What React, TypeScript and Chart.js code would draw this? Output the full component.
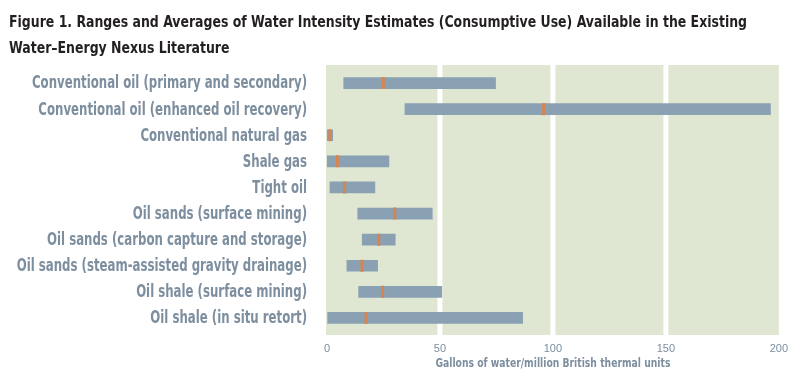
import React, { useEffect, useRef } from 'react';
import { Chart, registerables } from 'chart.js';

Chart.register(...registerables);

const titleLines = [
  'Figure 1. Ranges and Averages of Water Intensity Estimates (Consumptive Use) Available in the Existing',
  'Water–Energy Nexus Literature',
];
const categories = [
  'Conventional oil (primary and secondary)',
  'Conventional oil (enhanced oil recovery)',
  'Conventional natural gas',
  'Shale gas',
  'Tight oil',
  'Oil sands (surface mining)',
  'Oil sands (carbon capture and storage)',
  'Oil sands (steam-assisted gravity drainage)',
  'Oil shale (surface mining)',
  'Oil shale (in situ retort)',
];
const minValues = [7.4, 34.5, 0, 0, 1.3, 13.6, 15.6, 8.8, 14, 0.3];
const maxValues = [74.6, 196.3, 2.5, 27.4, 21.2, 46.6, 30.2, 22.4, 50.8, 86.6];
const avgValues = [24.9, 95.9, 1.3, 4.6, 7.8, 30, 22.9, 15.5, 24.6, 17.3];
const xTicks = [0, 50, 100, 150, 200];
const gridValues = [50, 100, 150];
const xAxisTitle = 'Gallons of water/million British thermal units';

const FONT = '"DejaVu Sans Condensed", "DejaVu Sans", Arial, sans-serif';
const LABEL_COLOR = '#7d8e9f';
const TITLE_COLOR = '#231f20';
const BAR_COLOR = '#8aa1b4';
const AVG_COLOR = '#d9834e';
const BG_COLOR = '#dfe6d1';

function drawScaled(ctx: CanvasRenderingContext2D, text: string, x: number, y: number, sx: number, align: CanvasTextAlign) {
  ctx.save();
  ctx.translate(x, y);
  ctx.scale(sx, 1);
  ctx.textAlign = align;
  ctx.fillText(text, 0, 0);
  ctx.restore();
}

const bgPlugin = {
  id: 'bgPlugin',
  beforeDatasetsDraw(chart: any) {
    const { ctx, chartArea: a, scales } = chart;
    const x = scales.x;
    ctx.save();
    ctx.fillStyle = BG_COLOR;
    ctx.fillRect(a.left - 1, a.top - 5, a.right - a.left + 1, a.bottom - a.top + 9);
    ctx.strokeStyle = '#ffffff';
    ctx.lineWidth = 5;
    for (const g of gridValues) {
      const px = x.getPixelForValue(g);
      ctx.beginPath();
      ctx.moveTo(px, a.top - 5);
      ctx.lineTo(px, a.bottom + 4);
      ctx.stroke();
    }
    ctx.restore();
  },
  afterDraw(chart: any) {
    const { ctx, chartArea: a, scales } = chart;
    ctx.save();
    // title
    ctx.fillStyle = TITLE_COLOR;
    ctx.font = `bold 16px ${FONT}`;
    ctx.textBaseline = 'alphabetic';
    const tsx = 738 / ctx.measureText(titleLines[0]).width;
    drawScaled(ctx, titleLines[0], 9, 27, tsx, 'left');
    drawScaled(ctx, titleLines[1], 9, 53, tsx, 'left');
    // y labels
    ctx.fillStyle = LABEL_COLOR;
    ctx.font = `bold 17px ${FONT}`;
    ctx.textBaseline = 'middle';
    const lsx = 275 / ctx.measureText(categories[0]).width;
    categories.forEach((c, i) => {
      drawScaled(ctx, c, 307, scales.y.getPixelForTick(i) + 1, lsx, 'right');
    });
    // x axis title
    ctx.font = `bold 12.5px ${FONT}`;
    const asx = 235 / ctx.measureText(xAxisTitle).width;
    drawScaled(ctx, xAxisTitle, (a.left + a.right) / 2, 364, asx, 'center');
    ctx.restore();
  },
};

export default function App() {
  const ref = useRef<HTMLCanvasElement | null>(null);
  useEffect(() => {
    document.body.style.margin = '0';
    const chart = new Chart(ref.current as HTMLCanvasElement, {
      type: 'bar',
      data: {
        labels: categories,
        datasets: [
          {
            type: 'scatter',
            data: avgValues.map((v, i) => ({ x: v, y: categories[i] })) as any,
            pointStyle: 'line',
            rotation: 90,
            radius: 6,
            borderWidth: 3,
            borderColor: AVG_COLOR,
            backgroundColor: AVG_COLOR,
            xAxisID: 'x',
            yAxisID: 'y',
            order: 1,
          } as any,
          {
            type: 'bar',
            data: minValues.map((v, i) => [v, maxValues[i]]) as any,
            backgroundColor: BAR_COLOR,
            barThickness: 11,
            borderWidth: 0,
            order: 2,
          },
        ],
      },
      options: {
        indexAxis: 'y',
        animation: false,
        responsive: false,
        layout: { padding: { top: 70, right: 20, left: 0, bottom: 0 } },
        plugins: {
          legend: { display: false },
          tooltip: { enabled: false },
          title: { display: false },
        },
        scales: {
          x: {
            type: 'linear',
            min: 0,
            max: 200,
            grid: { display: false, drawTicks: false },
            border: { display: false },
            afterBuildTicks: (s: any) => {
              s.ticks = xTicks.map((v) => ({ value: v }));
            },
            afterFit: (s: any) => {
              s.height = 53;
            },
            ticks: {
              color: LABEL_COLOR,
              padding: 11,
              font: { family: 'Arial, "Liberation Sans", sans-serif', size: 11 },
            },
          },
          y: {
            type: 'category',
            grid: { display: false },
            border: { display: false },
            afterFit: (s: any) => {
              s.width = 327;
            },
            ticks: { display: false },
          },
        },
      },
      plugins: [bgPlugin],
    });
    return () => chart.destroy();
  }, []);
  return <canvas ref={ref} width={799} height={384} style={{ display: 'block' }} />;
}
